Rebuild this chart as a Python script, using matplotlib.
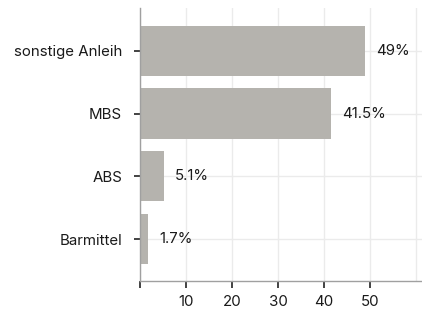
import matplotlib
matplotlib.use("Agg")
import matplotlib.pyplot as plt

categories = ["sonstige Anleih", "MBS", "ABS", "Barmittel"]
values = [49, 41.5, 5.1, 1.7]
labels = ["49%", "41.5%", "5.1%", "1.7%"]
xticks = [0, 10, 20, 30, 40, 50]
xticklabels = ["", "10", "20", "30", "40", "50"]

plt.rcParams['font.family'] = ['Inter', 'DejaVu Sans']

fig = plt.figure(figsize=(4.22, 3.13), dpi=100)
ax = fig.add_axes([0.332, 0.102, 0.668, 0.872])

ypos = list(range(len(categories)))
ax.barh(ypos, values, height=0.8, color="#b5b3ae", zorder=2)
for y, v, l in zip(ypos, values, labels):
    ax.text(v + 2.4, y, l, va="center", ha="left", fontsize=10.8, color="#1a1a1a")

ax.set_yticks(ypos)
ax.set_yticklabels(categories)
ax.set_xticks(xticks)
ax.set_xticklabels(xticklabels)
ax.set_xticks([60], minor=True)
ax.set_xlim(0, 61.3)
ax.set_ylim(3.67, -0.68)

ax.grid(True, which="both", color="#ebebeb", linewidth=1, zorder=0)
ax.tick_params(which="minor", length=0)
ax.set_axisbelow(True)
for s in ["top", "right"]:
    ax.spines[s].set_visible(False)
for s in ["left", "bottom"]:
    ax.spines[s].set_color("#a0a0a0")
    ax.spines[s].set_linewidth(1)
ax.tick_params(axis="y", which="major", length=4.5, width=1.2, color="#222222",
               labelsize=10.8, labelcolor="#1a1a1a", pad=8.5)
ax.tick_params(axis="x", which="major", length=5, width=1.2, color="#222222",
               labelsize=10.8, labelcolor="#1a1a1a", pad=5)

fig.savefig("out.png", dpi=100)
